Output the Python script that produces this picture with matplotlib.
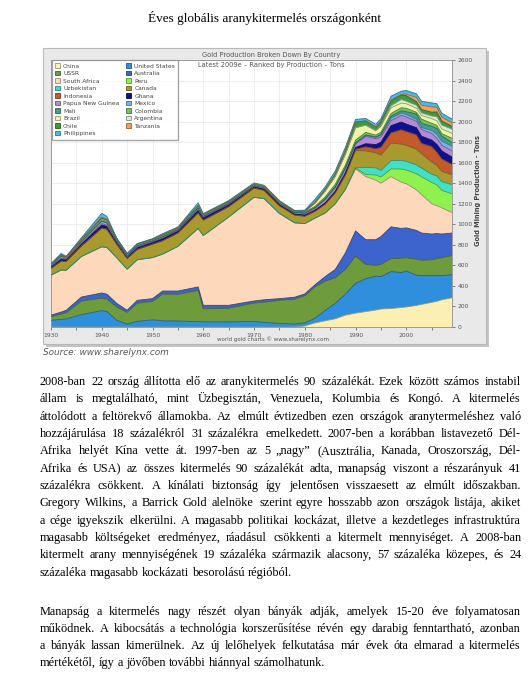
import numpy as np
import matplotlib
matplotlib.use("Agg")
import matplotlib.pyplot as plt
from matplotlib.patches import Rectangle, Patch
from matplotlib.font_manager import FontProperties
from matplotlib.colors import to_rgb

W, H = 529, 674

# ---- data (tons) ----
years = [1930, 1932, 1933, 1936, 1940, 1941, 1943, 1945, 1947, 1950,
         1952, 1955, 1959, 1960, 1961, 1965, 1970, 1972, 1975, 1978,
         1980, 1982, 1984, 1986, 1988, 1990, 1992, 1994, 1995, 1997,
         1999, 2000, 2002, 2003, 2005, 2006, 2007, 2009]

china = [0, 0, 0, 0, 0, 0, 0, 0, 0, 0, 0, 0, 0, 0, 0, 0, 0, 0, 0, 0,
         10, 40, 60, 80, 115, 135, 150, 165, 175, 180, 190, 195, 210, 220, 240, 250, 265, 285]
usa = [65, 75, 78, 120, 160, 150, 65, 28, 55, 70, 60, 58, 52, 52, 50, 50, 55, 45, 35, 30,
       30, 45, 100, 150, 205, 290, 320, 330, 315, 360, 340, 350, 295, 280, 260, 250, 235, 225]
ussr = [35, 50, 60, 132, 121, 122, 128, 115, 177, 179, 260, 260, 305, 125, 128, 133, 178, 196, 225, 240,
        265, 305, 285, 250, 240, 265, 140, 105, 120, 125, 140, 130, 155, 150, 155, 165, 175, 185]
australia = [15, 20, 25, 40, 50, 48, 35, 20, 28, 27, 30, 32, 33, 34, 33, 28, 20, 24, 16, 20,
             17, 20, 45, 80, 160, 245, 240, 250, 270, 310, 290, 290, 280, 265, 250, 245, 230, 220]
south_africa = [390, 410, 390, 395, 450, 455, 445, 400, 395, 400, 360, 435, 570, 680, 715, 860, 1010, 985, 830, 725,
                685, 650, 620, 640, 620, 605, 615, 580, 520, 490, 450, 430, 395, 375, 295, 272, 255, 200]
peru = [0, 0, 0, 0, 0, 0, 0, 0, 0, 0, 0, 0, 0, 0, 0, 0, 0, 0, 0, 0,
        0, 0, 0, 0, 0, 10, 20, 50, 60, 75, 128, 133, 157, 172, 208, 203, 170, 182]
uzbekistan = [0, 0, 0, 0, 0, 0, 0, 0, 0, 0, 0, 0, 0, 0, 0, 0, 0, 0, 0, 0,
              0, 0, 0, 0, 0, 0, 70, 70, 64, 80, 85, 85, 87, 85, 80, 85, 85, 90]
canada = [65, 85, 85, 100, 180, 175, 130, 105, 100, 130, 130, 130, 150, 150, 140, 100, 90, 80, 75, 75,
          70, 65, 83, 103, 135, 169, 160, 146, 150, 171, 158, 156, 152, 141, 119, 104, 101, 96]
indonesia = [2, 2, 2, 3, 4, 4, 1, 0, 1, 1, 1, 1, 2, 1, 1, 1, 1, 1, 1, 1,
             3, 3, 4, 7, 10, 12, 40, 40, 75, 100, 140, 135, 140, 100, 150, 130, 120, 100]
ghana = [15, 20, 15, 20, 28, 26, 22, 18, 20, 20, 22, 22, 28, 25, 25, 22, 15, 12, 10, 9,
         11, 10, 11, 12, 17, 17, 30, 40, 50, 70, 75, 72, 70, 70, 63, 75, 78, 72]
papua = [5, 8, 6, 10, 14, 12, 2, 0, 3, 3, 4, 2, 3, 2, 2, 2, 2, 10, 12, 12,
         14, 18, 30, 35, 36, 33, 70, 58, 52, 48, 65, 70, 62, 65, 66, 60, 56, 60]
mexico = [12, 18, 10, 15, 25, 22, 14, 12, 12, 10, 12, 10, 15, 9, 9, 8, 5, 5, 4, 4,
          5, 6, 8, 8, 10, 10, 10, 12, 18, 25, 22, 24, 20, 19, 28, 40, 38, 45]
mali = [0, 0, 0, 0, 0, 0, 0, 0, 0, 0, 0, 0, 0, 0, 0, 0, 0, 0, 0, 0,
        0, 0, 0, 0, 3, 4, 5, 5, 7, 20, 22, 27, 50, 42, 40, 55, 50, 38]
colombia = [5, 10, 5, 10, 18, 16, 12, 10, 12, 10, 12, 10, 14, 12, 12, 9, 6, 5, 5, 5,
            10, 12, 20, 25, 25, 25, 25, 18, 20, 25, 30, 32, 18, 40, 30, 30, 25, 40]
brazil = [3, 3, 2, 3, 5, 5, 3, 3, 3, 3, 3, 3, 5, 4, 4, 5, 6, 5, 6, 5,
          5, 30, 55, 75, 105, 120, 70, 42, 60, 55, 45, 45, 40, 35, 45, 45, 45, 48]
argentina = [0, 0, 0, 0, 0, 0, 0, 0, 0, 0, 0, 0, 0, 0, 0, 0, 0, 0, 0, 0,
             0, 0, 0, 0, 0, 1, 1, 1, 1, 20, 35, 25, 28, 26, 25, 40, 38, 40]
chile = [1, 2, 2, 4, 10, 9, 3, 3, 3, 2, 3, 2, 4, 3, 3, 2, 2, 2, 2, 2,
         3, 10, 18, 25, 35, 55, 40, 35, 45, 50, 45, 53, 36, 32, 38, 45, 40, 30]
tanzania = [0, 1, 1, 2, 4, 4, 0, 0, 1, 1, 2, 1, 3, 2, 2, 1, 1, 0, 0, 0,
            0, 0, 0, 0, 0, 0, 0, 0, 0, 4, 5, 15, 40, 43, 52, 45, 38, 32]
philippines = [4, 12, 8, 15, 38, 30, 0, 0, 2, 4, 10, 8, 26, 5, 6, 10, 12, 10, 10, 7,
               10, 30, 25, 30, 35, 25, 25, 27, 27, 40, 31, 36, 36, 38, 38, 36, 38, 37]

countries = ["China", "United States", "USSR", "Australia", "South Africa", "Peru",
             "Uzbekistan", "Canada", "Indonesia", "Ghana", "Papua New Guinea", "Mexico",
             "Mali", "Colombia", "Brazil", "Argentina", "Chile", "Tanzania", "Philippines"]
series = [china, usa, ussr, australia, south_africa, peru, uzbekistan, canada, indonesia,
          ghana, papua, mexico, mali, colombia, brazil, argentina, chile, tanzania, philippines]
colors = ["#fcefb4", "#2f8fdc", "#6e9c3c", "#3d63cc", "#fdd8bb", "#8ef24e", "#3fe0c5",
          "#a99a2f", "#c25a2c", "#0d118c", "#b48ad6", "#78b2ea", "#3f9e8c", "#74c25c",
          "#eef6a6", "#d9ecd2", "#3c9a3f", "#f0a05c", "#4bb9e2"]

title = "Éves globális aranykitermelés országonként"
para1 = [
    "2008-ban 22 ország állította elő az aranykitermelés 90 százalékát. Ezek között számos instabil",
    "állam is megtalálható, mint Üzbegisztán, Venezuela, Kolumbia és Kongó. A kitermelés",
    "áttolódott a feltörekvő államokba. Az elmúlt évtizedben ezen országok aranytermeléshez való",
    "hozzájárulása 18 százalékról 31 százalékra emelkedett. 2007-ben a korábban listavezető Dél-",
    "Afrika helyét Kína vette át. 1997-ben az 5 „nagy” (Ausztrália, Kanada, Oroszország, Dél-",
    "Afrika és USA) az összes kitermelés 90 százalékát adta, manapság viszont a részarányuk 41",
    "százalékra csökkent. A kínálati biztonság így jelentősen visszaesett az elmúlt időszakban.",
    "Gregory Wilkins, a Barrick Gold alelnöke szerint egyre hosszabb azon országok listája, akiket",
    "a cége igyekszik elkerülni. A magasabb politikai kockázat, illetve a kezdetleges infrastruktúra",
    "magasabb költségeket eredményez, ráadásul csökkenti a kitermelt mennyiséget. A 2008-ban",
    "kitermelt arany mennyiségének 19 százaléka származik alacsony, 57 százaléka közepes, és 24",
    "százaléka magasabb kockázati besorolású régióból.",
]
para2 = [
    "Manapság a kitermelés nagy részét olyan bányák adják, amelyek 15-20 éve folyamatosan",
    "működnek. A kibocsátás a technológia korszerűsítése révén egy darabig fenntartható, azonban",
    "a bányák lassan kimerülnek. Az új lelőhelyek felkutatása már évek óta elmarad a kitermelés",
    "mértékétől, így a jövőben további hiánnyal számolhatunk.",
]


def fx(x):
    return x / W


def fy(y):
    return 1 - y / H


def darker(c, f=0.62):
    r, g, b = to_rgb(c)
    return (r * f, g * f, b * f)


fig = plt.figure(figsize=(W / 100, H / 100), dpi=100)
fig.patch.set_facecolor("white")

# grey frame of the embedded chart picture
fig.patches.append(Rectangle((fx(46), fy(347)), (489 - 46) / W, (347 - 51) / H,
                             transform=fig.transFigure, facecolor="#c4c4c4",
                             edgecolor="none", zorder=-2))
fig.patches.append(Rectangle((fx(43), fy(344)), (486 - 43) / W, (344 - 48) / H,
                             transform=fig.transFigure, facecolor="#e9e9e9",
                             edgecolor="#b8b8b8", lw=0.8, zorder=-1))

ax = fig.add_axes([fx(51), fy(327), (452 - 51) / W, (327 - 60) / H])
ax.set_facecolor("white")

x = np.array(years)
base = np.zeros(len(years))
handles = []
for name, vals, col in zip(countries, series, colors):
    top = base + np.array(vals)
    ax.fill_between(x, base, top, facecolor=col, edgecolor="none", zorder=2)
    ax.plot(x, top, color=darker(col), lw=0.6, zorder=3)
    handles.append(Patch(facecolor=col, edgecolor=darker(col), lw=0.6, label=name))
    base = top

ax.set_xlim(1930, 2009)
ax.set_ylim(0, 2600)
ax.set_xticks(range(1930, 2010, 10))
ax.set_xticks(range(1935, 2010, 10), minor=True)
ax.set_yticks(range(0, 2601, 200))
ax.yaxis.tick_right()
ax.tick_params(axis="both", which="both", labelsize=4.3, colors="#555555",
               length=2.5, width=0.5, pad=1.5)
ax.grid(True, which="both", color="#e6e6e6", lw=0.5, zorder=0)
ax.set_axisbelow(True)
for side in ["left", "top", "right", "bottom"]:
    ax.spines[side].set_color("#9a9a9a")
    ax.spines[side].set_linewidth(0.7)

# legend: column 1 = odd ranks, column 2 = even ranks
order = list(range(0, 19, 2)) + list(range(1, 19, 2))
leg = ax.legend([handles[i] for i in order], [countries[i] for i in order],
                loc="upper left", bbox_to_anchor=(fx(52), fy(60)),
                bbox_transform=fig.transFigure, ncol=2, fontsize=4.3,
                frameon=True, fancybox=False, edgecolor="#8a8a8a",
                handlelength=0.8, handleheight=0.8, handletextpad=0.5,
                columnspacing=1.2, labelspacing=0.36, borderpad=0.55,
                borderaxespad=0)
leg.get_frame().set_linewidth(0.9)
for t in leg.get_texts():
    t.set_color("#444444")

# chart captions
fig.text(fx(271), fy(54.5), "Gold Production Broken Down By Country", ha="center",
         va="center", fontsize=4.8, color="#555555")
fig.text(fx(271), fy(64.5), "Latest 2009e \u2013 Ranked by Production \u2013 Tons",
         ha="center", va="center", fontsize=4.8, color="#555555")
fig.text(fx(478), fy(191), "Gold Mining Production - Tons", rotation=90, ha="center",
         va="center", fontsize=4.8, color="#444444", fontweight="bold")
fig.text(fx(273), fy(339.5), "world gold charts \u00a9 www.sharelynx.com", ha="center",
         va="center", fontsize=4.0, color="#555555")
fig.text(fx(43), fy(352), "Source: www.sharelynx.com", ha="left", va="center",
         fontsize=6.4, color="#555555", style="italic")

# page title
fig.text(fx(265), fy(22), title, ha="center", va="baseline",
         fontsize=9.5, family="Liberation Serif", color="black")

# justified body text, word by word
renderer = fig.canvas.get_renderer()
fp = FontProperties(family="Liberation Serif", size=8.8)


def width(s):
    return renderer.get_text_width_height_descent(s, fp, ismath=False)[0]


space = width("a a") - width("aa")
left, right = 40, 521


def paragraph(lines, y0, step):
    for i, line in enumerate(lines):
        words = line.split()
        ws = [width(w) for w in words]
        last = i == len(lines) - 1
        if last or len(words) < 2:
            gap = space
        else:
            gap = (right - left - sum(ws)) / (len(words) - 1)
        xpos = left
        y = round(y0 + i * step)
        for w, wd in zip(words, ws):
            fig.text(fx(round(xpos)), fy(y), w, fontproperties=fp, ha="left",
                     va="baseline", color="black")
            xpos += wd + gap


paragraph(para1, 385, 17.35)
paragraph(para2, 615, 17.0)

fig.savefig("out.png", dpi=100)
